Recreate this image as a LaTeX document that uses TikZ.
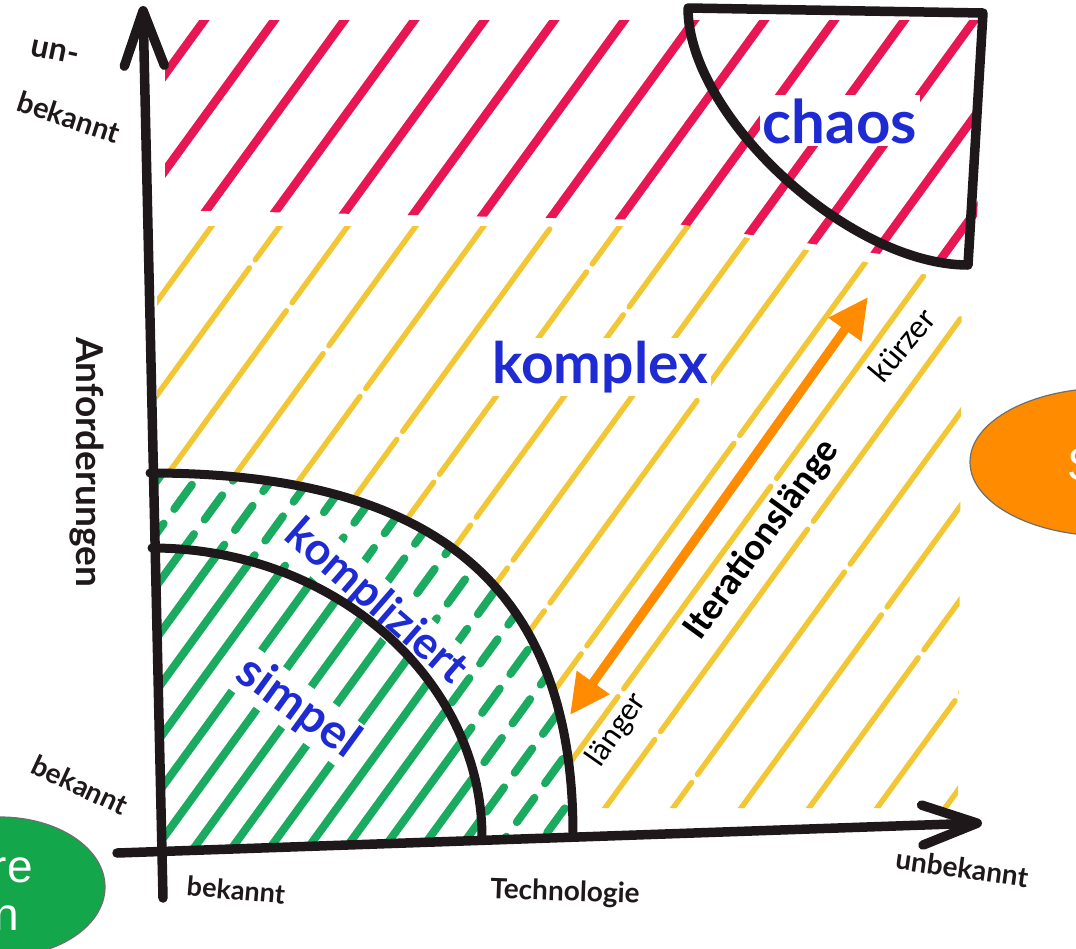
\documentclass[tikz,border=0pt]{standalone}
\usepackage{fontspec}
\setmainfont{Lato}
\newfontfamily\calfont{Carlito}
\newfontfamily\arialfont{Liberation Sans}
\usetikzlibrary{arrows.meta,shapes.geometric}
\definecolor{hred}{RGB}{232,22,82}
\definecolor{hyellow}{RGB}{242,198,52}
\definecolor{hgreen}{RGB}{26,170,96}
\definecolor{hblue}{RGB}{30,42,210}
\definecolor{ink}{RGB}{30,24,26}
\definecolor{orng}{RGB}{255,140,0}
\definecolor{ellgreen}{RGB}{20,166,74}
\definecolor{ellborder}{RGB}{110,110,110}
\begin{document}
\begin{tikzpicture}[x=1pt,y=-1pt,
  axisline/.style={ink, line width=9.5pt, line cap=round, line join=round},
  arcline/.style={ink, line width=9pt, line cap=round, line join=round},
  redhatch/.style={hred, line width=8.5pt, line cap=round},
  yelhatch/.style={hyellow, line width=5.5pt, line cap=round},
  grnhatch/.style={hgreen, line width=8pt, line cap=round},
  handlbl/.style={ink, inner sep=0pt},
  bluelbl/.style={hblue, fill=white, inner sep=3pt},
  iterlbl/.style={black, inner sep=0pt},
  ellbox/.style={ellipse, draw=ellborder, line width=1.2pt, inner sep=0pt},
  elltext/.style={white, inner sep=0pt, font=\arialfont\fontsize{46}{50}\selectfont},
  axistip/.style={-{Straight Barb[length=55pt,width=40pt,round]}},
  itertip/.style={{Triangle[length=40pt,width=38pt]}-{Triangle[length=40pt,width=38pt]}}
]
\useasboundingbox (0,0) rectangle (1076,948);
\fill[white] (0,0) rectangle (1076,948);
\clip (0,0) rectangle (1076,948);

% ---------- red hatching (top band and chaos) ----------
\begin{scope}
  \clip (165,20) -- (985,20) -- (975,268) -- (650,220) -- (165,210) -- cycle;
  \foreach \k in {-2,...,11}{
    \draw[redhatch] ({-257+70*\k},848) -- ({-257+70*\k+616},0);
  }
\end{scope}

% ---------- yellow hatching (komplex) ----------
\begin{scope}[even odd rule]
  \clip (157,226) -- (690,226) -- (962,282) -- (958,808) -- (157,808) -- cycle;
  \clip (0,0) rectangle (1076,948)
     (150,473) .. controls (438,473) and (573,589) .. (573,834) -- (160,848) -- cycle;
  \foreach \k in {-3,...,18}{
    \draw[yelhatch, dash pattern=on 250pt off 10pt, dash phase={53*\k}]
      ({-240+68*\k},848) -- ({-240+68*\k+616},0);
  }
\end{scope}

% ---------- green hatching (simpel: solid) ----------
\begin{scope}
  \clip (152,548) .. controls (333,548) and (482,679) .. (482,837) -- (160,848) -- cycle;
  \foreach \k in {0,...,18}{
    \draw[grnhatch] ({-110+38*\k},848) -- ({-110+38*\k+616},0);
  }
\end{scope}
% ---------- green hatching (kompliziert: broken strokes) ----------
\begin{scope}[even odd rule]
  \clip (150,473) .. controls (438,473) and (573,589) .. (573,834) -- (160,848) -- cycle;
  \clip (0,0) rectangle (1076,948)
     (152,548) .. controls (333,548) and (482,679) .. (482,837) -- (160,848) -- cycle;
  \foreach \k in {0,...,18}{
    \draw[grnhatch, dash pattern=on 30pt off 18pt, dash phase={13*\k}]
      ({-110+38*\k},848) -- ({-110+38*\k+616},0);
  }
\end{scope}

% ---------- region labels (white halo hides hatching) ----------
\node[bluelbl, font=\bfseries\fontsize{60}{64}\selectfont, anchor=base] (chaosLbl) at (840,143) {chaos};
\node[bluelbl, font=\bfseries\fontsize{57}{60}\selectfont, anchor=base] (komplexLbl) at (600,383) {komplex};
\node[bluelbl, font=\bfseries\fontsize{45}{48}\selectfont, rotate=-41] (kompliziertLbl) at (376,602) {kompliziert};
\node[bluelbl, font=\bfseries\fontsize{48}{52}\selectfont, rotate=-36] (simpelLbl) at (298,708) {simpel};

% ---------- arcs ----------
\coordinate (outerStart) at (150,473);
\coordinate (outerEnd) at (573,834);
\coordinate (innerStart) at (152,548);
\coordinate (innerEnd) at (482,837);
\draw[arcline] (innerStart) .. controls (333,548) and (482,679) .. (innerEnd);
\draw[arcline] (outerStart) .. controls (438,473) and (573,589) .. (outerEnd);

% ---------- chaos box ----------
\coordinate (chTL) at (688,8);
\coordinate (chTR) at (983,13);
\coordinate (chBR) at (968,265);
\draw[arcline, line width=9.5pt] (chTL) -- (chTR) -- (chBR)
   .. controls (849,265) and (688,116) .. (chTL) -- cycle;

% ---------- axes ----------
\coordinate (yBottom) at (163,898);
\coordinate (yTop) at (143,6);
\coordinate (xLeft) at (117,853);
\coordinate (xRight) at (982,823);
\draw[axisline, axistip] (yBottom) -- (yTop);
\draw[axisline, axistip] (xLeft) -- (xRight);

% ---------- axis labels ----------
\node[handlbl, font=\bfseries\fontsize{32}{34}\selectfont, rotate=-12] (unLbl) at (55,52) {un-};
\node[handlbl, font=\bfseries\fontsize{29}{32}\selectfont, rotate=-18] (bekTop) at (69,117) {bekannt};
\node[handlbl, font=\bfseries\fontsize{37}{40}\selectfont, rotate=-90, anchor=base] (anfLbl) at (76,462) {Anforderungen};
\node[handlbl, font=\bfseries\fontsize{28}{32}\selectfont, rotate=-25] (bekLeft) at (80,785) {bekannt};
\node[handlbl, font=\bfseries\fontsize{27}{30}\selectfont, rotate=-5] (bekBottom) at (236,890) {bekannt};
\node[handlbl, font=\bfseries\fontsize{28}{30}\selectfont, rotate=-2] (techLbl) at (565,893) {Technologie};
\node[handlbl, font=\bfseries\fontsize{28}{30}\selectfont, rotate=-8] (unbekLbl) at (962,868) {unbekannt};

% ---------- iteration arrow ----------
\coordinate (itLong) at (570,715);
\coordinate (itShort) at (868,297);
\draw[orng, line width=9pt, itertip] (itLong) -- (itShort);
\node[iterlbl, font=\calfont\bfseries\fontsize{38}{40}\selectfont, rotate=54] (iterLbl) at (762,540) {Iterationslänge};
\node[iterlbl, font=\calfont\fontsize{33}{36}\selectfont, rotate=50] (kurzLbl) at (902,345) {kürzer};
\node[iterlbl, font=\calfont\fontsize{32}{35}\selectfont, rotate=55] (langLbl) at (617,730) {länger};

% ---------- cut-off ellipses ----------
\node[ellbox, fill=orng, minimum width=276pt, minimum height=148pt] (orangeEll) at (1108,462) {};
\node[elltext, anchor=west] (orangeTxt) at (1067,465) {S};
\node[ellbox, fill=ellgreen, minimum width=210pt, minimum height=140pt] (greenEll) at (0,887) {};
\node[elltext, anchor=base east] (greenTxtA) at (33,882) {re};
\node[elltext, anchor=base east] (greenTxtB) at (19,930) {n};
\end{tikzpicture}
\end{document}
